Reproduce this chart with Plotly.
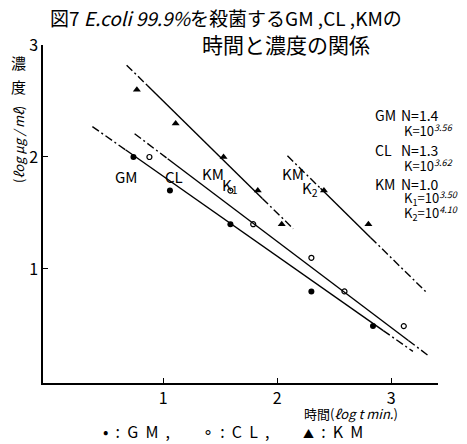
import numpy as np
import plotly.graph_objects as go

# Measured points: log t (min) vs log concentration (ug/ml)
gm_x = [0.74, 1.06, 1.59, 2.30, 2.84]
gm_y = [2.00, 1.70, 1.40, 0.80, 0.49]

cl_x = [0.88, 1.59, 1.79, 2.30, 2.59, 3.11]
cl_y = [2.00, 1.70, 1.40, 1.10, 0.80, 0.49]

km_x = [0.77, 1.11, 1.53, 1.83, 2.04, 2.41, 2.80]
km_y = [2.60, 2.30, 2.00, 1.70, 1.40, 1.70, 1.40]

# Fitted relation C^N * t = K  ->  log C = (log K - log t) / N
fit_names = ["GM", "CL", "KM K1", "KM K2"]
fit_N = [1.4, 1.3, 1.0, 1.0]
fit_logK = [3.56, 3.62, 3.50, 4.10]
# x-extent of each fit: dash-dot extrapolation / solid fitted part / dash-dot extrapolation
fit_x_from = [0.38, 0.75, 0.68, 2.09]
fit_solid_from = [0.67, 1.04, 0.86, 2.38]
fit_solid_to = [2.93, 3.15, 1.87, 2.82]
fit_x_to = [3.19, 3.32, 2.14, 3.31]

tick_vals = [1, 2, 3]

W, H = 467, 444
L, R, T, B = 43, 29, 45, 61
FONT = "Noto Sans CJK JP, Noto Sans, sans-serif"
NBSP = "\u00a0"


def px(x):
    return (x - L) / (W - L - R)


def py(y):
    return (H - B - y) / (H - T - B)


fig = go.Figure()

DASHDOT = "8px,3px,2px,3px"
for n, lk, a, s0, s1, b in zip(fit_N, fit_logK, fit_x_from, fit_solid_from,
                               fit_solid_to, fit_x_to):
    f = lambda x: (lk - np.asarray(x)) / n
    for xs, dash in (([a, s0], DASHDOT), ([s0, s1], "solid"), ([s1, b], DASHDOT)):
        fig.add_trace(go.Scatter(
            x=xs, y=f(xs), mode="lines",
            line=dict(color="black", width=1.4, dash=dash),
            showlegend=False, hoverinfo="skip"))

fig.add_trace(go.Scatter(x=gm_x, y=gm_y, mode="markers", name="GM",
                         marker=dict(symbol="circle", size=6, color="black")))
fig.add_trace(go.Scatter(x=cl_x, y=cl_y, mode="markers", name="CL",
                         marker=dict(symbol="circle-open", size=5, color="black",
                                     line=dict(width=1.2, color="black"))))
fig.add_trace(go.Scatter(x=km_x, y=km_y, mode="markers", name="KM",
                         marker=dict(symbol="triangle-up", size=7, color="black")))

ann = []


def text(x, y, s, size=15, xanchor="left", angle=0):
    ann.append(dict(x=px(x), y=py(y), xref="paper", yref="paper", text=s,
                    showarrow=False, xanchor=xanchor, yanchor="middle",
                    textangle=angle, font=dict(family=FONT, size=size, color="black")))


# Title
text(226, 18, "図7 <i>E.coli 99.9%</i>を殺菌するGM ,CL ,KMの", size=19, xanchor="center")
text(200, 44, "時間と濃度の関係", size=21)

# Axis titles
text(18, 62, "濃", size=15, xanchor="center")
text(18, 87, "度", size=15, xanchor="center")
text(18, 145, "(<i>ℓog μg / mℓ</i>)", size=13, xanchor="center", angle=-90)
text(302, 413, "時間(<i>ℓog t min.</i>)", size=13)

# Line labels
text(126, 176, "GM", size=15, xanchor="center")
text(174, 176, "CL", size=15, xanchor="center")
text(213, 174, "KM", size=15, xanchor="center")
text(230, 185, "K<sub>1</sub>", size=15, xanchor="center")
text(293, 174, "KM", size=15, xanchor="center")
text(310, 188, "K<sub>2</sub>", size=15, xanchor="center")

# Fit parameters
text(373, 115, "GM", size=14)
text(399, 115, "N=1.4", size=14)
text(402, 130, "K=10<sup><i>3.56</i></sup>", size=13)
text(373, 150, "CL", size=14)
text(399, 150, "N=1.3", size=14)
text(402, 165, "K=10<sup><i>3.62</i></sup>", size=13)
text(373, 184, "KM", size=14)
text(399, 184, "N=1.0", size=14)
text(402, 198, "K<sub>1</sub>=10<sup><i>3.50</i></sup>", size=13)
text(402, 213, "K<sub>2</sub>=10<sup><i>4.10</i></sup>", size=13)

# Symbol key
sp = NBSP * 2
key = (
    (101, "•", "G" + sp + "M" + sp + ","),
    (201, "∘", "C" + sp + "L" + sp + ","),
    (301, "<span style='font-size:11px'>▲</span>", "K" + sp + "M"),
)
for x0, sym, name in key:
    text(x0, 431, sym + sp + ":" + sp + name, size=16)

fig.update_layout(
    width=W, height=H,
    margin=dict(l=L, r=R, t=T, b=B, pad=0),
    paper_bgcolor="white", plot_bgcolor="white",
    showlegend=False,
    annotations=ann,
    font=dict(family=FONT, size=16, color="black"),
    xaxis=dict(range=[-0.053, 3.41], tickvals=tick_vals, ticks="inside",
               ticklen=5, tickcolor="black", showline=True, linecolor="black",
               linewidth=1.5, showgrid=False, zeroline=False,
               tickfont=dict(family=FONT, size=16)),
    yaxis=dict(range=[-0.018, 3.0], tickvals=tick_vals, ticks="inside",
               ticklen=5, tickcolor="black", showline=True, linecolor="black",
               linewidth=1.5, showgrid=False, zeroline=False,
               tickfont=dict(family=FONT, size=16)),
)

fig.write_html("out.html")
